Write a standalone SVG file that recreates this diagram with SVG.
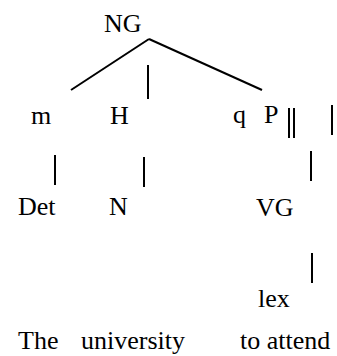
<svg xmlns="http://www.w3.org/2000/svg" width="337" height="356" viewBox="0 0 337 356">
<style>
.t{font-family:'Liberation Serif','Times New Roman',serif;font-size:26px;fill:#000}
.c line{stroke:#000;stroke-width:2}
</style>
<rect width="337" height="356" fill="#fff"/>
<g class="c" id="connectors">
<line x1="149" y1="39" x2="71" y2="90"/>
<line x1="149" y1="39" x2="262" y2="90"/>
<line x1="148" y1="65" x2="148" y2="99"/>
<line x1="55" y1="155" x2="55" y2="185"/>
<line x1="144" y1="157" x2="144" y2="187"/>
<line x1="289" y1="108" x2="289" y2="138"/>
<line x1="294" y1="108" x2="294" y2="138"/>
<line x1="332" y1="105" x2="332" y2="135"/>
<line x1="311" y1="151" x2="311" y2="181"/>
<line x1="312" y1="253" x2="312" y2="283"/>
</g>
<g id="NG"><text class="t" x="104" y="32">NG</text></g>
<g id="m"><text class="t" x="31" y="124">m</text></g>
<g id="H"><text class="t" x="110" y="124">H</text></g>
<g id="q"><text class="t" x="233" y="123">q</text></g>
<g id="P"><text class="t" x="264" y="123">P</text></g>
<g id="Det"><text class="t" x="18" y="215">Det</text></g>
<g id="N"><text class="t" x="109" y="215">N</text></g>
<g id="VG"><text class="t" x="256" y="216">VG</text></g>
<g id="lex"><text class="t" x="258" y="307">lex</text></g>
<g id="The"><text class="t" x="18" y="349">The</text></g>
<g id="university"><text class="t" x="81" y="349">university</text></g>
<g id="to-attend"><text class="t" x="240" y="349">to attend</text></g>
</svg>
